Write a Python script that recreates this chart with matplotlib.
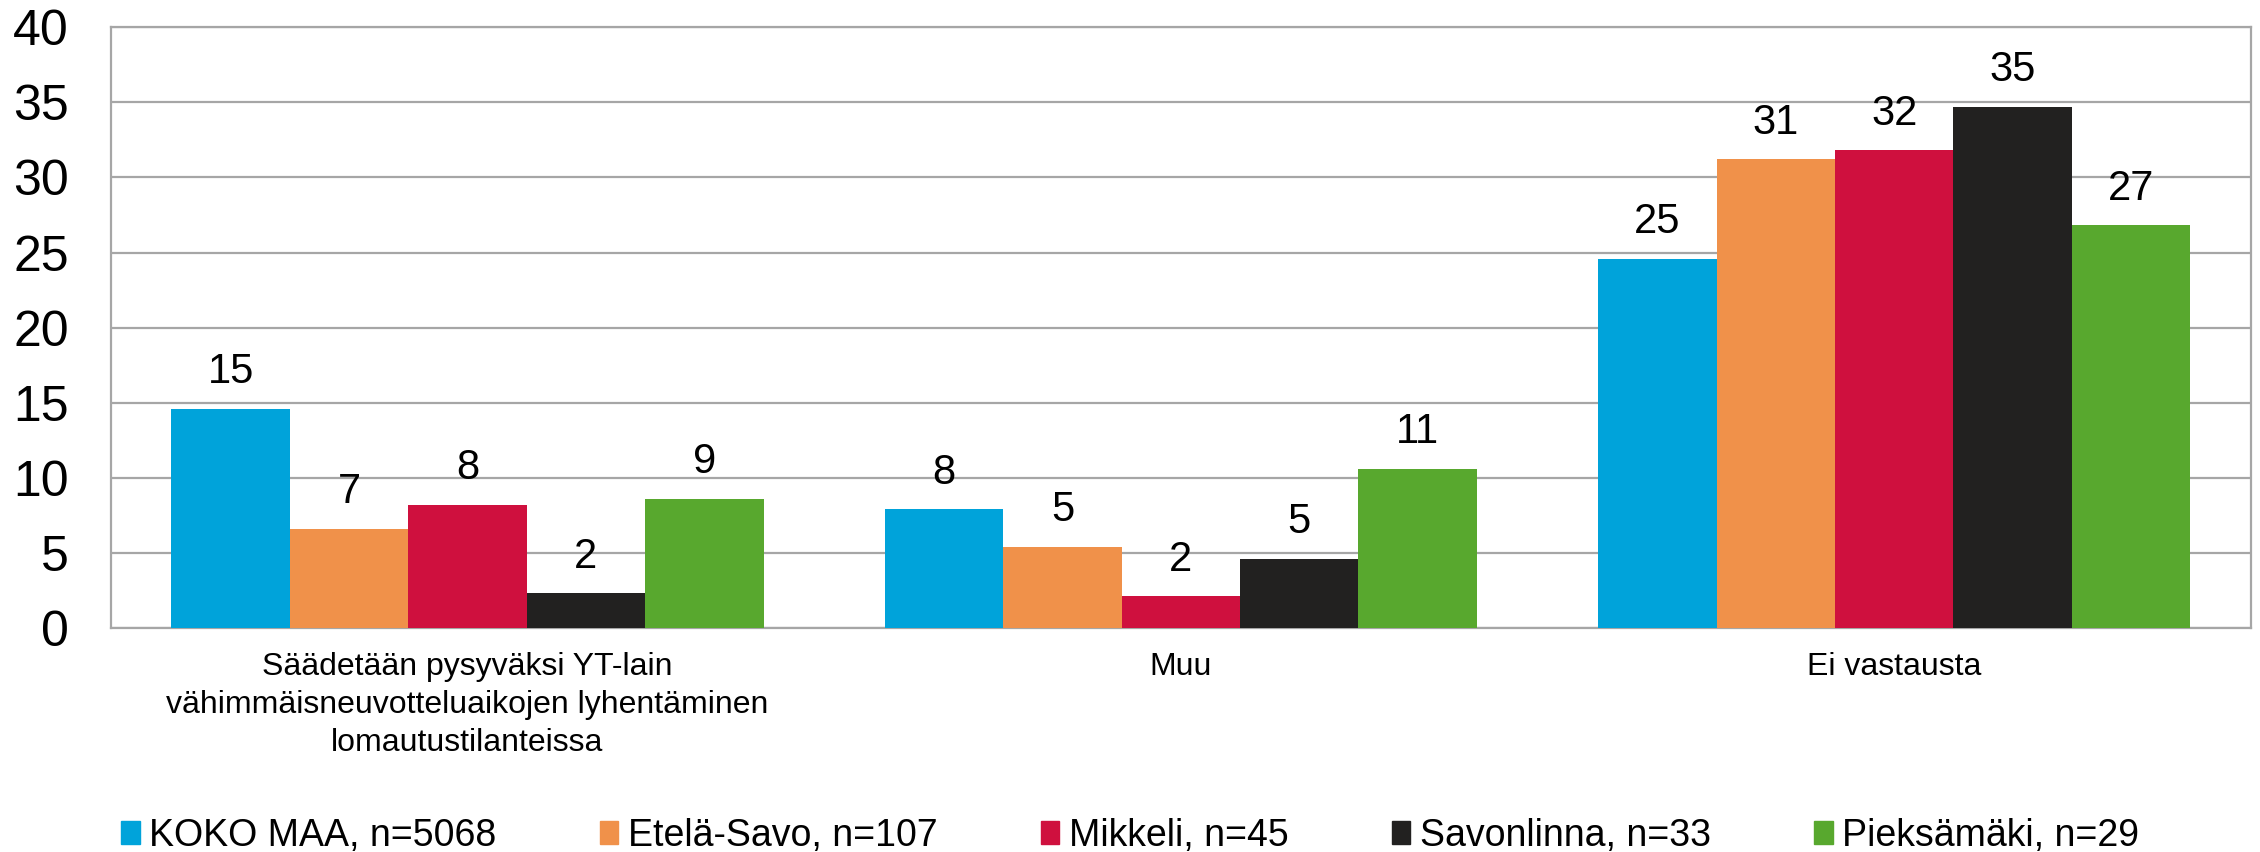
import numpy as np
import matplotlib
matplotlib.use("Agg")
import matplotlib.pyplot as plt
from matplotlib.patches import Patch

plt.rcParams['font.family'] = ['Liberation Sans', 'DejaVu Sans']

# data
categories = ["Säädetään pysyväksi YT-lain\nvähimmäisneuvotteluaikojen lyhentäminen\nlomautustilanteissa",
              "Muu",
              "Ei vastausta"]
series = ["KOKO MAA, n=5068", "Etelä-Savo, n=107", "Mikkeli, n=45",
          "Savonlinna, n=33", "Pieksämäki, n=29"]
koko_maa = [14.6, 7.9, 24.6]
etela_savo = [6.6, 5.4, 31.2]
mikkeli = [8.2, 2.1, 31.8]
savonlinna = [2.3, 4.6, 34.7]
pieksamaki = [8.6, 10.6, 26.8]
colors = ["#00A3DA", "#F0914A", "#CF103E", "#222120", "#58A82E"]

values = [koko_maa, etela_savo, mikkeli, savonlinna, pieksamaki]

fig = plt.figure(figsize=(22.6, 8.52), dpi=100)
ax = fig.add_axes([0.049, 0.263, 0.947, 0.705])

x = np.arange(len(categories))
w = 0.166
for i, (vals, col) in enumerate(zip(values, colors)):
    pos = x + (i - 2) * w
    ax.bar(pos, vals, width=w, color=col, zorder=3)
    for px_, v in zip(pos, vals):
        ax.annotate(f"{v:.0f}", (px_, v), xytext=(0, 12), textcoords="offset points",
                    ha="center", va="bottom", fontsize=30, color="black")

ax.set_xlim(-0.5, 2.5)
ax.set_ylim(0, 40)
ax.set_yticks(range(0, 41, 5))
ax.yaxis.grid(True, color="#A6A6A6", linewidth=1.6, zorder=0)
ax.tick_params(axis="y", length=0, labelsize=36, pad=30)
ax.tick_params(axis="x", length=0, labelsize=23, pad=17)
ax.set_xticks(x)
ax.set_xticklabels(categories, linespacing=1.35)
for s in ax.spines.values():
    s.set_color("#A6A6A6")
    s.set_linewidth(1.6)

handles = [Patch(color=c, label=s) for c, s in zip(colors, series)]
fig.legend(handles=handles, loc="center", bbox_to_anchor=(0.5, 0.019), ncol=5,
           frameon=False, fontsize=27, handlelength=0.5, handleheight=0.55,
           handletextpad=0.25, columnspacing=2.75)

fig.savefig("out.png", dpi=100)
